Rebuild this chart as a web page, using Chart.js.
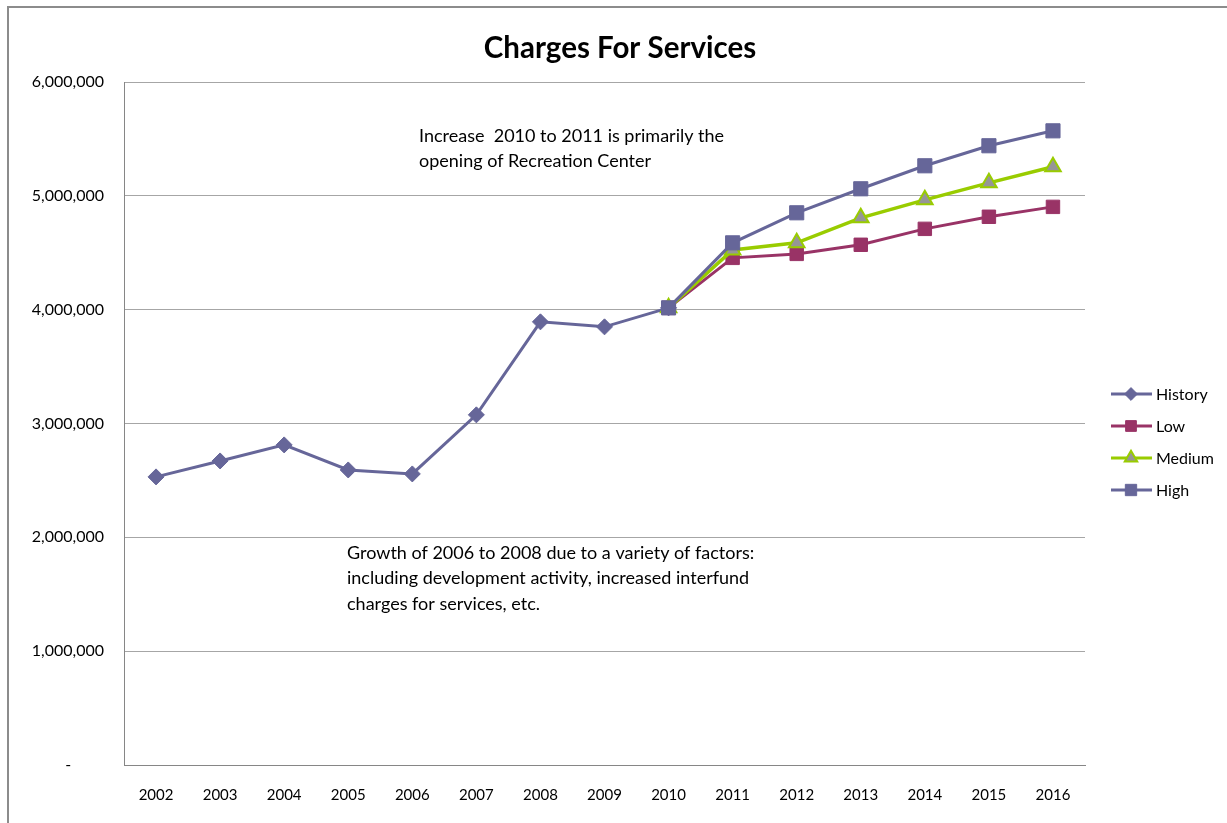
<!DOCTYPE html>
<html>
<head>
<meta charset="utf-8">
<script src="https://cdn.jsdelivr.net/npm/chart.js@4/dist/chart.umd.min.js"></script>
<style>
  html, body { margin: 0; padding: 0; background: #fff; }
  #wrap { position: relative; width: 1227px; height: 823px; }
</style>
</head>
<body>
<div id="wrap"><canvas id="c" width="1227" height="823"></canvas></div>
<script>
const years = ['2002','2003','2004','2005','2006','2007','2008','2009','2010','2011','2012','2013','2014','2015','2016'];
const history = [2531000, 2671000, 2812000, 2592000, 2557000, 3076000, 3893000, 3849000, 4016000, null, null, null, null, null, null];
const low     = [null, null, null, null, null, null, null, null, 4016000, 4455000, 4490000, 4570000, 4710000, 4816000, 4903000];
const medium  = [null, null, null, null, null, null, null, null, 4016000, 4525000, 4587000, 4807000, 4965000, 5114000, 5255000];
const high    = [null, null, null, null, null, null, null, null, 4016000, 4587000, 4851000, 5062000, 5264000, 5440000, 5571000];
const yTicks  = [0, 1000000, 2000000, 3000000, 4000000, 5000000, 6000000];
const titleText = 'Charges For Services';
const note1 = ['Increase  2010 to 2011 is primarily the', 'opening of Recreation Center'];
const note2 = ['Growth of 2006 to 2008 due to a variety of factors:', 'including development activity, increased interfund', 'charges for services, etc.'];

const FONT = 'Lato, "Open Sans", "Liberation Sans", sans-serif';

const decor = {
  id: 'decor',
  beforeDraw(chart) {
    const ctx = chart.ctx;
    ctx.save();
    ctx.fillStyle = '#fff';
    ctx.fillRect(0, 0, chart.width, chart.height);
    ctx.strokeStyle = '#8c8c8c';
    ctx.lineWidth = 2;
    ctx.beginPath();
    ctx.moveTo(8, 823); ctx.lineTo(8, 7); ctx.lineTo(1227, 7);
    ctx.stroke();
    ctx.restore();
  },
  afterDraw(chart) {
    const ctx = chart.ctx;
    ctx.save();
    ctx.fillStyle = '#000';
    ctx.textBaseline = 'middle';
    ctx.textAlign = 'center';
    ctx.font = 'bold 29.5px ' + FONT;
    ctx.fillText(titleText, 620, 48);
    ctx.textAlign = 'left';
    ctx.font = '18px ' + FONT;
    note1.forEach((t, i) => ctx.fillText(t, 419, 136 + i * 25));
    note2.forEach((t, i) => ctx.fillText(t, 347, 553 + i * 25.5));
    // legend
    chart.data.datasets.forEach((d, i) => {
      const y = 394 + i * 32;
      ctx.strokeStyle = d.borderColor;
      ctx.lineWidth = 3;
      ctx.beginPath(); ctx.moveTo(1111, y); ctx.lineTo(1152, y); ctx.stroke();
      ctx.fillStyle = d.pointBackgroundColor;
      ctx.strokeStyle = d.pointBorderColor;
      ctx.lineWidth = d.pointBorderWidth;
      Chart.helpers.drawPoint(ctx, {pointStyle: d.pointStyle, radius: d.pointRadius * 0.8, borderWidth: d.pointBorderWidth}, 1131, y);
      ctx.fillStyle = '#000';
      ctx.textBaseline = 'middle';
      ctx.textAlign = 'left';
      ctx.font = '16px ' + FONT;
      ctx.fillText(d.label, 1156, y + 1);
    });
    ctx.restore();
  }
};

new Chart(document.getElementById('c'), {
  type: 'line',
  data: {
    labels: years,
    datasets: [
      { label: 'History', data: history, borderColor: '#666699', backgroundColor: '#666699',
        pointStyle: 'rectRot', pointRadius: 8, pointBackgroundColor: '#666699', pointBorderColor: '#666699', pointBorderWidth: 1,
        borderWidth: 3, order: 4 },
      { label: 'Low', data: low, borderColor: '#993366', backgroundColor: '#993366',
        pointStyle: 'rect', pointRadius: 9.5, pointBackgroundColor: '#993366', pointBorderColor: '#993366', pointBorderWidth: 1,
        borderWidth: 3, order: 3 },
      { label: 'Medium', data: medium, borderColor: '#99CC00', backgroundColor: '#99CC00',
        pointStyle: 'triangle', pointRadius: 9, pointBackgroundColor: '#969696', pointBorderColor: '#99CC00', pointBorderWidth: 2,
        borderWidth: 3.5, order: 2 },
      { label: 'High', data: high, borderColor: '#666699', backgroundColor: '#666699',
        pointStyle: 'rect', pointRadius: 10, pointBackgroundColor: '#666699', pointBorderColor: '#666699', pointBorderWidth: 1,
        borderWidth: 3, order: 1 }
    ]
  },
  options: {
    responsive: false,
    animation: false,
    spanGaps: false,
    layout: { padding: { left: 0, top: 82, right: 142, bottom: 0 } },
    plugins: { legend: { display: false }, title: { display: false }, tooltip: { enabled: false } },
    elements: { line: { tension: 0 } },
    scales: {
      x: {
        type: 'category',
        offset: true,
        grid: { display: false, drawTicks: false },
        border: { display: true, color: '#868686', width: 1 },
        ticks: { color: '#000', font: { family: FONT, size: 15 }, padding: 21, maxRotation: 0, autoSkip: false },
        afterFit(s) { s.height = 58; }
      },
      y: {
        min: 0, max: 6000000,
        afterBuildTicks(s) { s.ticks = yTicks.map(v => ({ value: v })); },
        grid: { color: '#a6a6a6', lineWidth: 1, drawTicks: false },
        border: { display: true, color: '#868686', width: 1 },
        ticks: {
          color: '#000', font: { family: FONT, size: 16 }, padding: 20,
          callback(v) { return v === 0 ? '-        ' : Number(v).toLocaleString('en-US'); }
        },
        afterFit(s) { s.width = 124; }
      }
    }
  },
  plugins: [decor]
});
</script>
</body>
</html>
